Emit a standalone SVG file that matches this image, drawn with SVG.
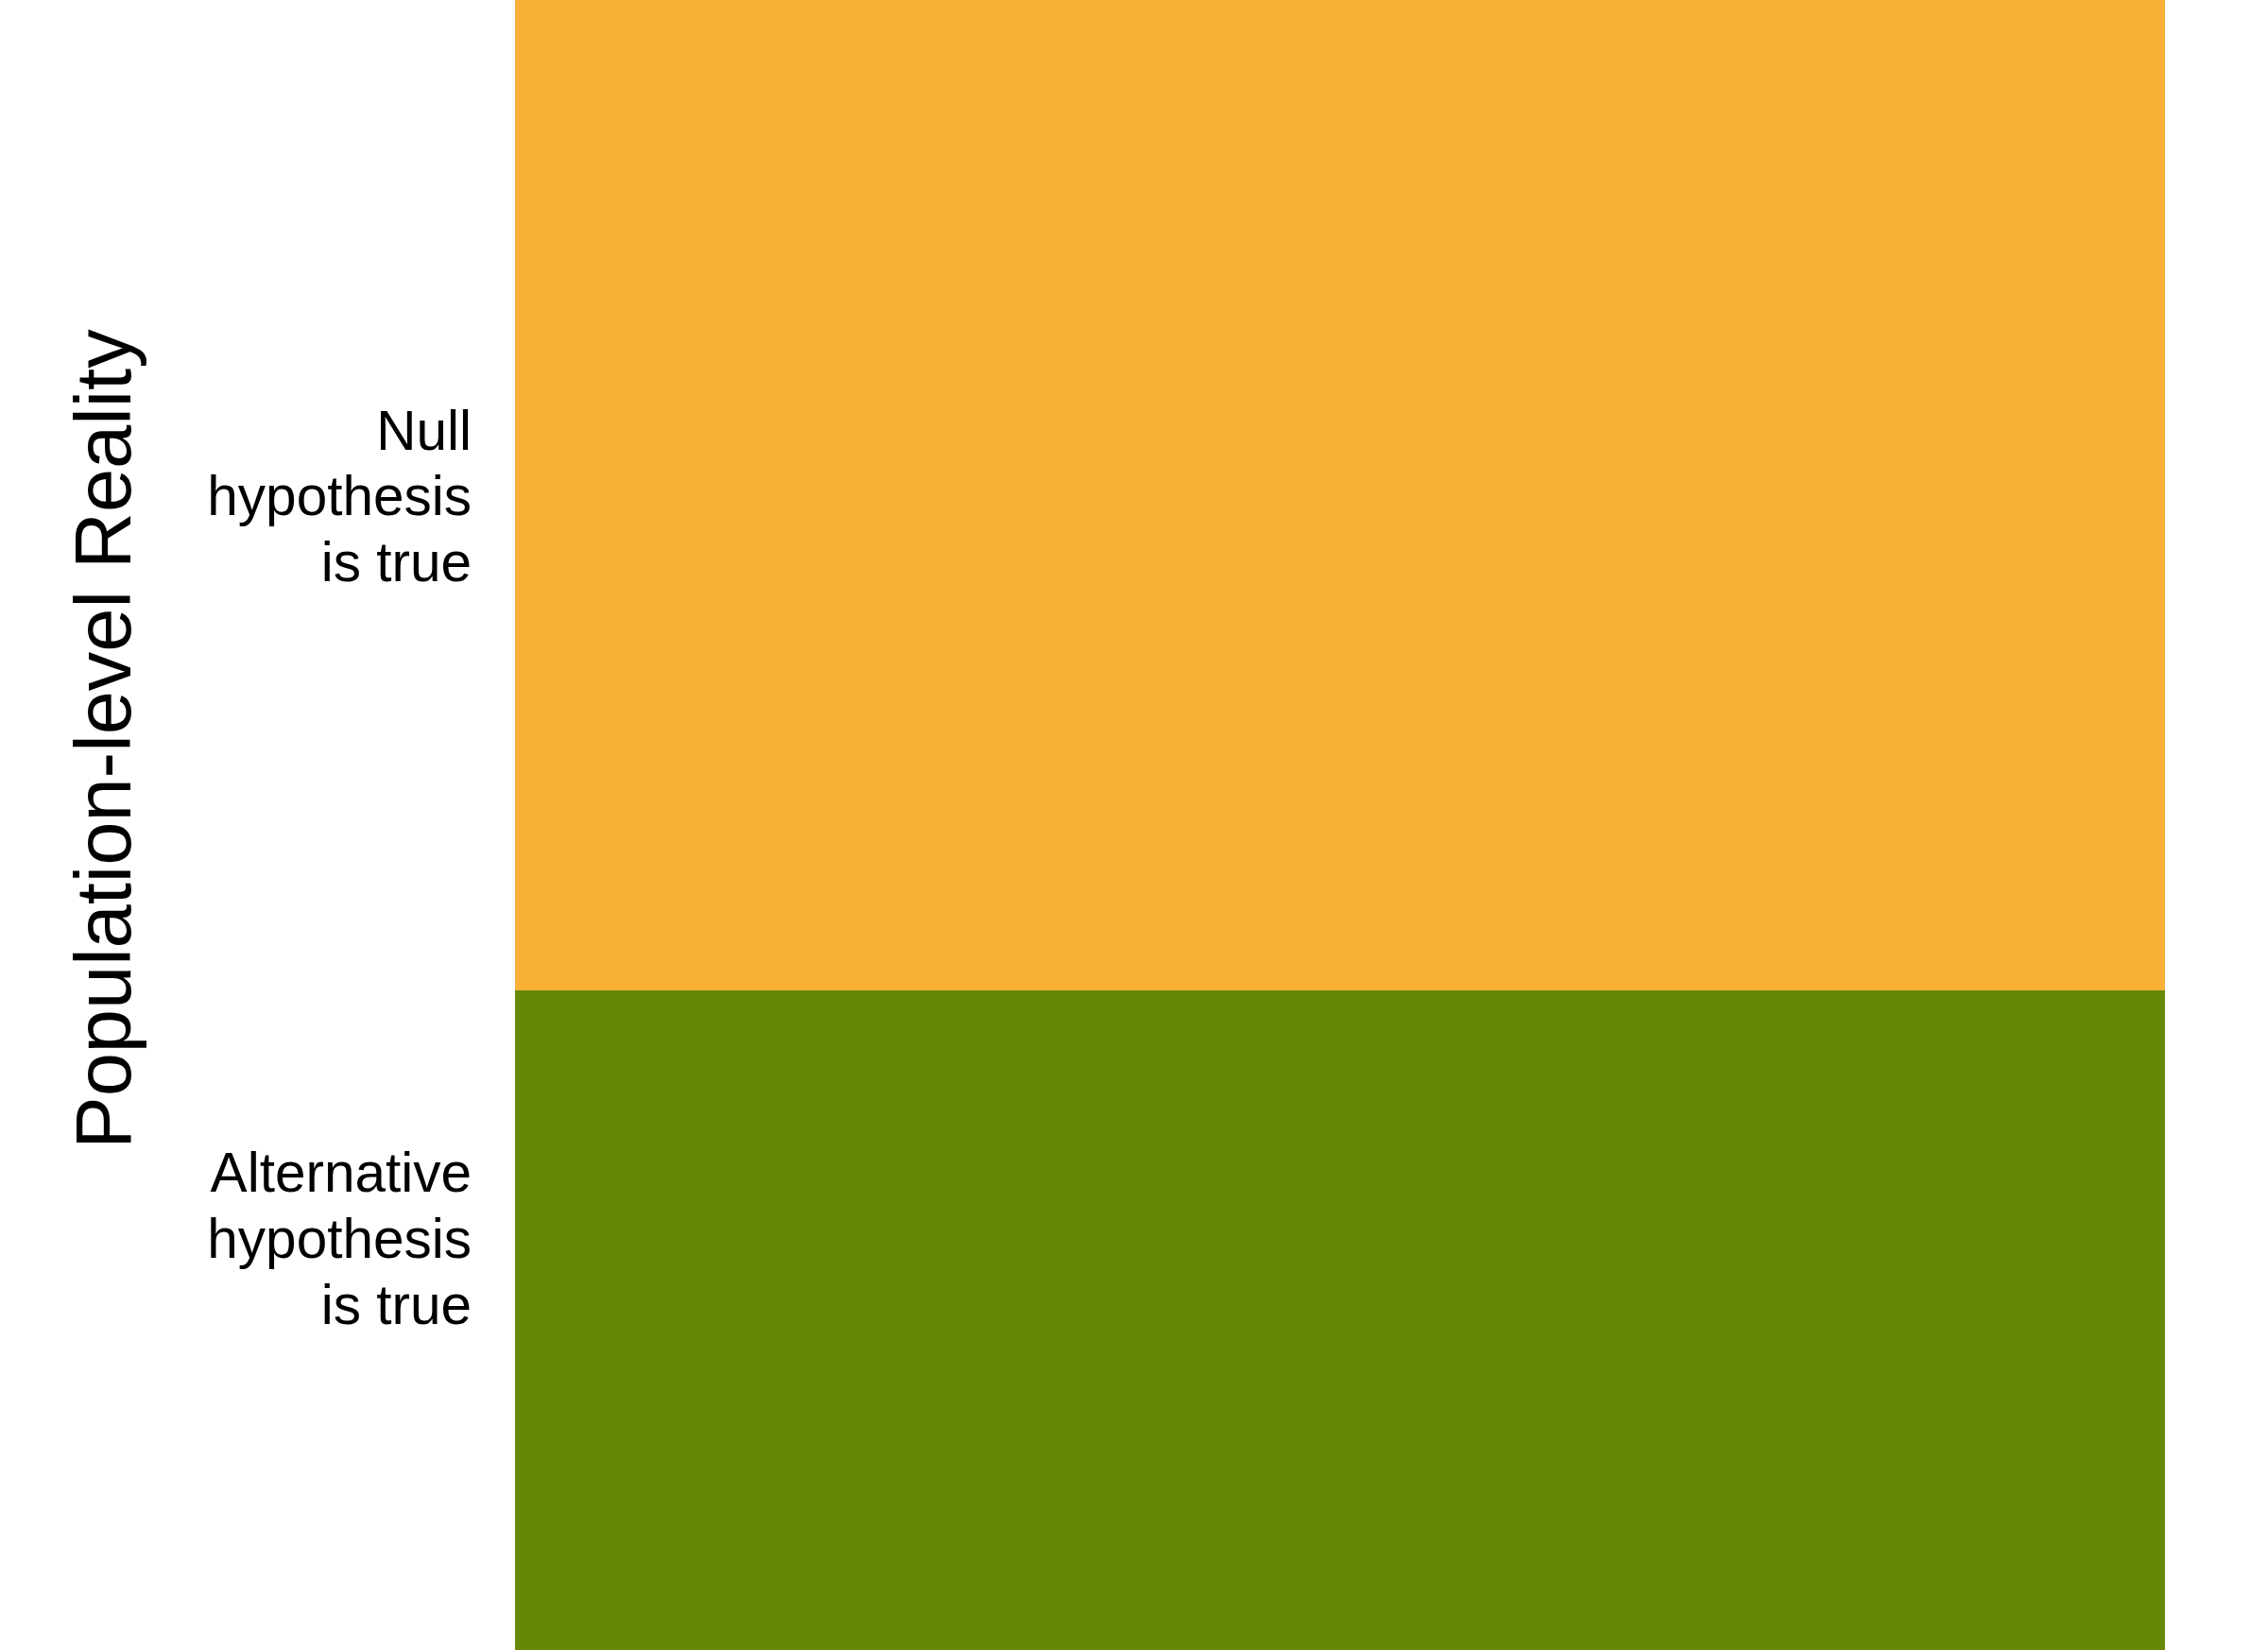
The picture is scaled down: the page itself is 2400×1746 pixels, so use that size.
<svg xmlns="http://www.w3.org/2000/svg" width="2400" height="1746" viewBox="0 0 2400 1746">
<style>
.lbl{font-family:"Liberation Sans",Arial,sans-serif;font-size:58.5px;fill:#000;text-anchor:end}
.ttl{font-family:"Liberation Sans",Arial,sans-serif;font-size:83px;fill:#000;text-anchor:middle}
</style>
<rect width="2400" height="1746" fill="#ffffff"/>
<g id="null-cell"><rect x="545" y="0" width="1746" height="1048" fill="#F9B037"/></g>
<g id="alt-cell"><rect x="545" y="1048" width="1746" height="698" fill="#668806"/></g>
<g id="connectors"/>
<g id="axis-title"><text class="ttl" transform="translate(138,782) rotate(-90)">Population-level Reality</text></g>
<g id="null-label"><text class="lbl" x="499" y="476">Null</text><text class="lbl" x="499" y="545">hypothesis</text><text class="lbl" x="499" y="615">is true</text></g>
<g id="alt-label"><text class="lbl" x="499" y="1261">Alternative</text><text class="lbl" x="499" y="1331">hypothesis</text><text class="lbl" x="499" y="1401">is true</text></g>
</svg>
